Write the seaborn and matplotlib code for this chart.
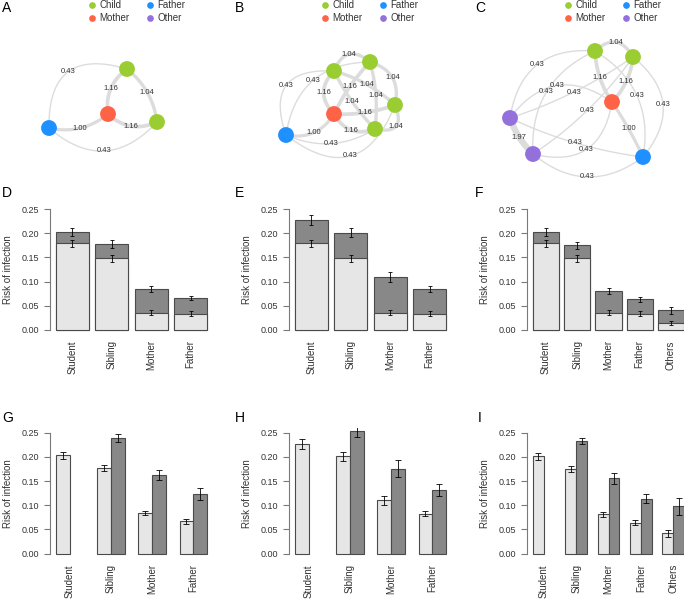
import numpy as np
import pandas as pd
import seaborn as sns
from matplotlib import pyplot as plt
from matplotlib.lines import Line2D
from matplotlib.ticker import FormatStrFormatter

# colours
CHILD, MOTHER, FATHER, OTHER = "#9ACD32", "#FF6347", "#1E90FF", "#9370DB"
KIND_COLOR = {"Child": CHILD, "Mother": MOTHER, "Father": FATHER, "Other": OTHER}
EDGE = "#dcdcdc"
LIGHT, DARK = "#e6e6e6", "#888888"
OUTLINE = "#4a4a4a"
AXIS_GRAY = "#7a7a7a"
TXT = "#333333"

W, H = 684, 601

# ---------------- network data (A, B, C) ----------------
kinds_A = ["Child", "Mother", "Child", "Father"]
edges_A = [(3, 0, 0.43), (3, 2, 0.43), (0, 1, 1.16), (0, 2, 1.04), (1, 2, 1.16), (3, 1, 1.00)]
# layout (panel pixel frame 228 x 180) and edge bends
layout_A = [(127, 69), (108, 114), (157, 122), (49, 128)]
bend_A = [0.34, -0.24, -0.15, 0.10, -0.165, -0.12]

kinds_B = ["Child", "Child", "Child", "Child", "Mother", "Father"]
edges_B = [(0, 1, 1.04), (1, 2, 1.04), (2, 3, 1.04), (0, 3, 1.04), (0, 2, 1.04), (1, 3, 1.04),
           (0, 4, 1.16), (1, 4, 1.16), (2, 4, 1.16), (3, 4, 1.16), (5, 4, 1.00),
           (5, 0, 0.43), (5, 1, 0.43), (5, 3, 0.43), (5, 2, 0.43)]
layout_B = [(106, 71), (142, 62), (167, 105), (147, 129), (106, 114), (58, 135)]
bend_B = [0.34, 0.23, 0.46, -0.04, 0.06, 0.05,
          -0.24, -0.04, 0.05, 0.21, -0.17,
          0.37, 0.21, -0.13, -0.33]

kinds_C = ["Child", "Child", "Mother", "Other", "Other", "Father"]
edges_C = [(0, 1, 1.04), (0, 2, 1.16), (1, 2, 1.16), (2, 5, 1.00), (3, 4, 1.97),
           (3, 0, 0.43), (3, 1, 0.43), (3, 2, 0.43), (4, 0, 0.43), (4, 1, 0.43),
           (3, 5, 0.43), (4, 2, 0.43), (4, 5, 0.43), (5, 0, 0.43), (5, 1, 0.43)]
layout_C = [(139, 51), (177, 57), (156, 102), (54, 118), (77, 154), (187, 157)]
bend_C = [0.31, -0.07, 0.085, 0.02, -0.06,
          0.23, -0.037, 0.24, 0.17, -0.047,
          -0.04, -0.27, -0.195, -0.17, -0.25]

# ---------------- bar data (D-I) ----------------
cats4 = ["Student", "Sibling", "Mother", "Father"]
cats5 = ["Student", "Sibling", "Mother", "Father", "Others"]

D_total = [0.202, 0.177, 0.084, 0.066]
D_total_err = [0.008, 0.008, 0.006, 0.005]
D_light = [0.179, 0.148, 0.036, 0.034]
D_light_err = [0.008, 0.007, 0.006, 0.005]

E_total = [0.227, 0.201, 0.109, 0.084]
E_total_err = [0.010, 0.009, 0.010, 0.0065]
E_light = [0.179, 0.148, 0.036, 0.034]
E_light_err = [0.008, 0.007, 0.006, 0.005]

F_total = [0.202, 0.175, 0.081, 0.063, 0.041]
F_total_err = [0.008, 0.007, 0.006, 0.005, 0.007]
F_light = [0.179, 0.148, 0.036, 0.034, 0.014]
F_light_err = [0.008, 0.007, 0.006, 0.005, 0.0045]

G_light = [0.203, 0.177, 0.084, 0.067]
G_light_err = [0.008, 0.006, 0.005, 0.005]
G_dark = [np.nan, 0.239, 0.162, 0.123]
G_dark_err = [np.nan, 0.009, 0.010, 0.013]

H_light = [0.227, 0.201, 0.110, 0.083]
H_light_err = [0.0097, 0.009, 0.009, 0.0055]
H_dark = [np.nan, 0.253, 0.176, 0.132]
H_dark_err = [np.nan, 0.012, 0.018, 0.012]

I_light = [0.201, 0.175, 0.081, 0.064, 0.042]
I_light_err = [0.008, 0.006, 0.005, 0.005, 0.007]
I_dark = [np.nan, 0.233, 0.156, 0.114, 0.098]
I_dark_err = [np.nan, 0.007, 0.011, 0.010, 0.018]

yticks = [0.00, 0.05, 0.10, 0.15, 0.20, 0.25]

sns.set_theme(style="ticks")
plt.rcParams["font.family"] = ["Liberation Sans", "DejaVu Sans"]

fig = plt.figure(figsize=(W / 100, H / 100), dpi=100)


def fig_axes(left, top, width, height):
    return fig.add_axes([left / W, 1 - (top + height) / H, width / W, height / H])


def draw_network(ax, kinds, edges, layout, bends):
    ax.set_xlim(0, 228)
    ax.set_ylim(180, 0)
    ax.axis("off")
    for (u, v, w), bend in zip(edges, bends):
        p0, p1 = np.array(layout[u], float), np.array(layout[v], float)
        d = p1 - p0
        L = np.hypot(*d)
        perp = np.array([d[1], -d[0]]) / L
        ctrl = (p0 + p1) / 2 + 2 * bend * L * perp
        t = np.linspace(0, 1, 80)[:, None]
        curve = (1 - t) ** 2 * p0 + 2 * (1 - t) * t * ctrl + t ** 2 * p1
        ax.plot(curve[:, 0], curve[:, 1], color=EDGE, lw=2.3 * w,
                solid_capstyle="round", zorder=1)
        lab = 0.25 * p0 + 0.5 * ctrl + 0.25 * p1
        ax.text(lab[0], lab[1], f"{w:.2f}", fontsize=5.5, color=TXT,
                ha="center", va="center", zorder=2)
    xy = np.array(layout, float)
    ax.scatter(xy[:, 0], xy[:, 1], s=130, c=[KIND_COLOR[k] for k in kinds],
               linewidths=0, zorder=3)


def add_legend(ax, x_dot, y_top):
    handles = [Line2D([], [], marker="o", ls="", color=KIND_COLOR[k], markersize=3.8)
               for k in ["Child", "Mother", "Father", "Other"]]
    ax.legend(handles, ["Child", "Mother", "Father", "Other"], ncol=2,
              loc="upper left", bbox_to_anchor=((x_dot - 3) / W, 1 - y_top / H),
              bbox_transform=fig.transFigure, frameon=False, fontsize=7,
              handlelength=0.6, handletextpad=0.45, columnspacing=1.85,
              labelspacing=0.25, borderpad=0, borderaxespad=0, labelcolor=TXT)


nets = [(kinds_A, edges_A, layout_A, bend_A, 92),
        (kinds_B, edges_B, layout_B, bend_B, 325),
        (kinds_C, edges_C, layout_C, bend_C, 568)]
for i, (kinds, edges, layout, bends, xd) in enumerate(nets):
    ax = fig_axes(i * 228, 0, 228, 180)
    draw_network(ax, kinds, edges, layout, bends)
    add_legend(ax, xd, 0.5)


def style_bar_axes(ax, n, half):
    ext = 0.04 * ((n - 1) + 2 * half)
    ax.set_xlim(-half - ext, n - 1 + half + ext)
    ax.set_ylim(-0.01, 0.26)
    ax.set_yticks(yticks)
    ax.yaxis.set_major_formatter(FormatStrFormatter("%.2f"))
    for s in ["top", "right", "bottom"]:
        ax.spines[s].set_visible(False)
    ax.spines["left"].set_bounds(0, 0.25)
    ax.spines["left"].set_color(AXIS_GRAY)
    ax.spines["left"].set_linewidth(0.8)
    ax.tick_params(axis="y", length=4, width=0.8, color=AXIS_GRAY, pad=4,
                   labelsize=6.5, labelcolor=TXT)
    ax.tick_params(axis="x", length=0, pad=4, labelsize=7, labelrotation=90,
                   labelcolor=TXT)
    ax.set_xlabel("")
    ax.set_ylabel("Risk of infection", fontsize=7, color=TXT)
    ax.yaxis.set_label_coords(-37 / 163, 0.5)


bar_lefts = [50, 289, 527]
row_tops = [204.2, 427.9]
ax_w, ax_h = 163, 130.6

# stacked panels D, E, F
stacked = [(cats4, D_total, D_total_err, D_light, D_light_err),
           (cats4, E_total, E_total_err, E_light, E_light_err),
           (cats5, F_total, F_total_err, F_light, F_light_err)]
for left, (cats, tot, tot_e, lig, lig_e) in zip(bar_lefts, stacked):
    ax = fig_axes(left, row_tops[0], ax_w, ax_h)
    w = 1 / 1.2
    sns.barplot(x=cats, y=tot, order=cats, color=DARK, saturation=1, width=w,
                edgecolor=OUTLINE, linewidth=0.8, errorbar=None, ax=ax)
    sns.barplot(x=cats, y=lig, order=cats, color=LIGHT, saturation=1, width=w,
                edgecolor=OUTLINE, linewidth=0.8, errorbar=None, ax=ax)
    xs = np.arange(len(cats))
    ax.errorbar(xs, tot, yerr=tot_e, fmt="none", ecolor="black", elinewidth=0.6,
                capsize=1.2, capthick=0.6, zorder=5)
    ax.errorbar(xs, lig, yerr=lig_e, fmt="none", ecolor="black", elinewidth=0.6,
                capsize=1.2, capthick=0.6, zorder=5)
    style_bar_axes(ax, len(cats), w / 2)

# grouped panels G, H, I
grouped = [(cats4, G_light, G_light_err, G_dark, G_dark_err),
           (cats4, H_light, H_light_err, H_dark, H_dark_err),
           (cats5, I_light, I_light_err, I_dark, I_dark_err)]
for left, (cats, lig, lig_e, drk, drk_e) in zip(bar_lefts, grouped):
    ax = fig_axes(left, row_tops[1], ax_w, ax_h)
    df = pd.DataFrame({"cat": cats * 2,
                       "kind": ["light"] * len(cats) + ["dark"] * len(cats),
                       "value": list(lig) + list(drk)}).dropna()
    sns.barplot(data=df, x="cat", y="value", hue="kind", order=cats,
                hue_order=["light", "dark"], palette={"light": LIGHT, "dark": DARK},
                saturation=1, width=2 / 3, edgecolor=OUTLINE, linewidth=0.8,
                errorbar=None, legend=False, ax=ax)
    xs = np.arange(len(cats))
    ax.errorbar(xs - 1 / 6, lig, yerr=lig_e, fmt="none", ecolor="black",
                elinewidth=0.6, capsize=2.2, capthick=0.6, zorder=5)
    ax.errorbar(xs + 1 / 6, drk, yerr=drk_e, fmt="none", ecolor="black",
                elinewidth=0.6, capsize=2.2, capthick=0.6, zorder=5)
    style_bar_axes(ax, len(cats), 1 / 3)

# panel letters
letters = [("A", 2, 1), ("B", 235, 1), ("C", 475, 1),
           ("D", 2, 186), ("E", 235, 186), ("F", 475, 186),
           ("G", 2, 411), ("H", 235, 411), ("I", 478, 411)]
for lab, x, y in letters:
    fig.text(x / W, 1 - y / H, lab, fontsize=10, ha="left", va="top", color="black")

fig.savefig("out.png", dpi=100)
